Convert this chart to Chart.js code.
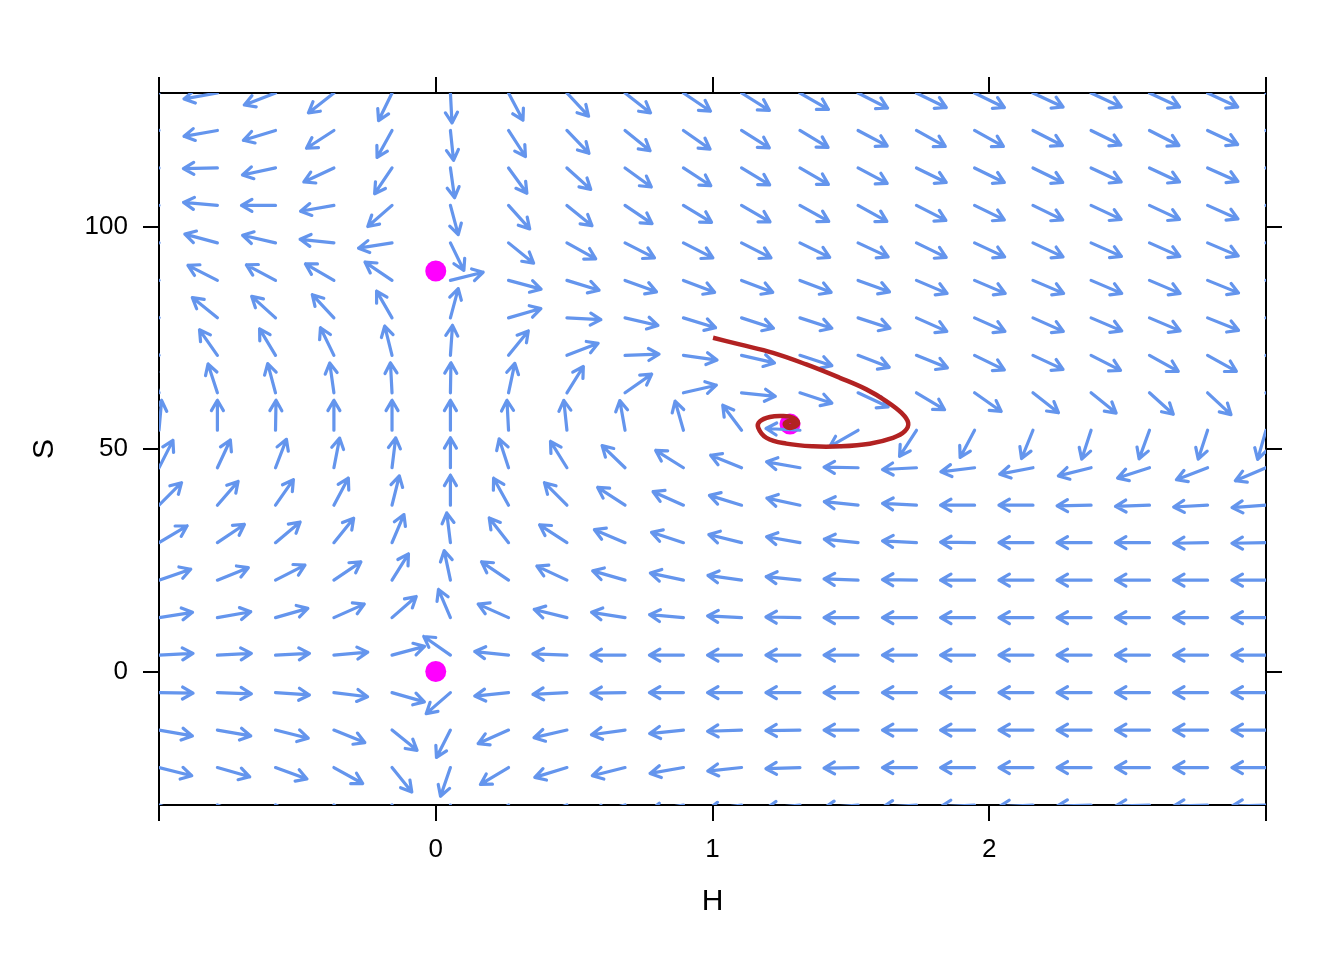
<!DOCTYPE html>
<html>
<head>
<meta charset="utf-8">
<title>Phase plane H / S</title>
<script src="https://cdn.jsdelivr.net/npm/chart.js@4.4.1/dist/chart.umd.min.js"></script>
<style>
  html, body { margin: 0; padding: 0; background: #ffffff; }
  #wrap { width: 1344px; height: 960px; }
</style>
</head>
<body>
<div id="wrap"><canvas id="phaseChart" width="1344" height="960"></canvas></div>
<script>
// grid of the flow field (H columns, S rows)
const hGrid = [-1, -0.789, -0.579, -0.368, -0.158, 0.053, 0.263, 0.474, 0.684, 0.895,
               1.105, 1.316, 1.526, 1.737, 1.947, 2.158, 2.368, 2.579, 2.789, 3];
const sGrid = [-30, -21.58, -13.16, -4.74, 3.68, 12.11, 20.53, 28.95, 37.37, 45.79,
               54.21, 62.63, 71.05, 79.47, 87.89, 96.32, 104.74, 113.16, 121.58, 130];

// arrow direction on screen, degrees (0 = right, 90 = up), one row per S value
const arrowAngles = [
  [340, 338, 335, 322, 300, 258, 215, 200, 195, 190, 188, 186, 185, 184, 183, 183, 182, 182, 182, 182],
  [346, 344, 340, 331, 309, 251, 211, 197, 194, 190, 186, 182, 181, 180, 180, 180, 180, 180, 180, 180],
  [350, 350, 346, 338, 321, 243, 204, 193, 188, 186, 182, 181, 180, 180, 180, 180, 180, 180, 180, 180],
  [359, 358, 356, 353, 344, 221, 186, 183, 181, 180, 180, 180, 180, 180, 180, 180, 180, 180, 180, 180],
  [3, 3, 3, 5, 15, 145, 174, 178, 180, 180, 180, 180, 180, 180, 180, 180, 180, 180, 180, 180],
  [9, 10, 16, 24, 41, 113, 156, 166, 171, 175, 177, 179, 180, 180, 180, 180, 180, 180, 180, 180],
  [19, 22, 27, 34, 58, 102, 146, 155, 164, 168, 172, 174, 178, 179, 180, 180, 180, 180, 180, 180],
  [31, 34, 40, 51, 67, 97, 128, 147, 157, 162, 166, 170, 174, 177, 179, 180, 180, 180, 181, 181],
  [45, 49, 55, 62, 76, 90, 119, 135, 147, 156, 163, 168, 174, 177, 180, 180, 181, 182, 183, 184],
  [63, 65, 69, 79, 83, 90, 108, 122, 136, 148, 158, 170, 179, 183, 187, 191, 194, 198, 201, 203],
  [85, 90, 89, 90, 90, 90, 93, 96, 100, 106, 127, 177, 210, 237, 242, 248, 252, 250, 252, 254],
  [110, 108, 105, 98, 93, 89, 78, 58, 35, 13, 354, 342, 335, 329, 325, 322, 321, 318, 317, 316],
  [128, 125, 121, 116, 104, 86, 51, 21, 2, 352, 347, 342, 339, 338, 334, 335, 333, 331, 331, 331],
  [143, 141, 138, 133, 120, 75, 16, 357, 347, 343, 342, 342, 342, 336, 336, 336, 337, 337, 338, 338],
  [154, 153, 152, 150, 146, 14, 345, 343, 340, 339, 339, 339, 340, 337, 337, 337, 337, 337, 338, 338],
  [165, 165, 167, 174, 189, 296, 321, 331, 333, 333, 333, 334, 335, 334, 335, 335, 336, 336, 337, 337],
  [176, 175, 180, 190, 221, 285, 312, 321, 326, 329, 330, 331, 331, 333, 334, 334, 335, 335, 336, 336],
  [182, 181, 192, 205, 236, 278, 306, 318, 324, 327, 329, 330, 332, 334, 334, 334, 335, 335, 336, 336],
  [188, 190, 197, 213, 241, 276, 303, 314, 321, 325, 328, 329, 332, 331, 331, 333, 334, 333, 335, 335],
  [190, 190, 201, 218, 244, 273, 298, 313, 322, 326, 328, 330, 333, 334, 334, 335, 335, 335, 335, 335]
];

// equilibria
const eqH = [0, 0, 1.28];
const eqS = [0, 90, 55.6];

// trajectory started at (1, 75)
const trajH = [1.002, 1.098, 1.219, 1.339, 1.460, 1.556, 1.629, 1.683, 1.707, 1.695, 1.652, 1.568,
               1.460, 1.363, 1.267, 1.195, 1.165, 1.171, 1.207, 1.255, 1.291, 1.309, 1.297, 1.272,
               1.261, 1.279, 1.297, 1.283, 1.276, 1.286, 1.282, 1.280];
const trajS = [75.0, 73.5, 71.6, 69.0, 66.0, 63.4, 60.7, 58.1, 55.9, 54.0, 52.5, 51.2,
               50.6, 50.6, 51.2, 52.5, 54.8, 56.2, 57.2, 57.4, 57.0, 55.9, 55.0, 54.8,
               55.7, 56.3, 55.7, 55.1, 55.5, 55.8, 55.4, 55.6];

const xTicks = [-1, 0, 1, 2, 3];
const yTicks = [0, 50, 100];

const FONT = "'Liberation Sans', Arial, sans-serif";

// draws the flow field under the trajectory but over the equilibrium points
const arrowField = {
  id: 'arrowField',
  beforeDatasetDraw(chart, args) {
    if (args.index !== 0) return;
    const { ctx, chartArea, scales: { x, y } } = chart;
    ctx.save();
    ctx.beginPath();
    ctx.rect(chartArea.left, chartArea.top, chartArea.right - chartArea.left, chartArea.bottom - chartArea.top);
    ctx.clip();
    ctx.strokeStyle = '#6495ED';
    ctx.lineWidth = 3.2;
    ctx.lineCap = 'round';
    ctx.lineJoin = 'round';
    const wing = 12, spread = 30 * Math.PI / 180;
    arrowAngles.forEach((row, i) => {
      row.forEach((deg, j) => {
        const x0 = x.getPixelForValue(hGrid[j]);
        const y0 = y.getPixelForValue(sGrid[i]);
        const a = deg * Math.PI / 180;
        const c = Math.cos(a), s = Math.sin(a);
        const len = 1 / Math.sqrt((c / 34) ** 2 + (s / 30) ** 2);
        const x1 = x0 + len * c, y1 = y0 - len * s;
        ctx.beginPath();
        ctx.moveTo(x0, y0);
        ctx.lineTo(x1, y1);
        const back = a + Math.PI;
        ctx.moveTo(x1 + wing * Math.cos(back + spread), y1 - wing * Math.sin(back + spread));
        ctx.lineTo(x1, y1);
        ctx.lineTo(x1 + wing * Math.cos(back - spread), y1 - wing * Math.sin(back - spread));
        ctx.stroke();
      });
    });
    ctx.restore();
  }
};

const tickSet = (vals) => (scale) => { scale.ticks = vals.map(v => ({ value: v })); };

const axisCommon = {
  type: 'linear',
  grid: { drawOnChartArea: false, drawTicks: true, tickLength: 16, color: '#000000', lineWidth: 2 },
  border: { display: true, color: '#000000', width: 2 },
};

new Chart(document.getElementById('phaseChart'), {
  type: 'scatter',
  data: {
    datasets: [
      {
        label: 'trajectory',
        data: trajH.map((h, k) => ({ x: h, y: trajS[k] })),
        showLine: true,
        borderColor: '#B22222',
        borderWidth: 4.5,
        pointRadius: 0,
        tension: 0.4,
        fill: false
      },
      {
        label: 'equilibria',
        data: eqH.map((h, k) => ({ x: h, y: eqS[k] })),
        showLine: false,
        pointRadius: 10.5,
        pointBackgroundColor: '#FF00FF',
        pointBorderWidth: 0
      }
    ]
  },
  options: {
    responsive: false,
    devicePixelRatio: 1,
    animation: false,
    layout: { padding: 0 },
    plugins: { legend: { display: false }, tooltip: { enabled: false } },
    scales: {
      x: {
        ...axisCommon,
        position: 'bottom',
        min: -1, max: 3,
        afterBuildTicks: tickSet(xTicks),
        afterFit: (s) => { s.height = 155; },
        ticks: {
          autoSkip: false, maxRotation: 0, padding: 13, color: '#000000',
          font: { family: FONT, size: 26 },
          callback: (v) => (v === -1 || v === 3) ? '' : String(v)
        },
        title: { display: true, text: 'H', color: '#000000', font: { family: FONT, size: 30 }, padding: { top: 0, bottom: 40 } }
      },
      xTop: {
        ...axisCommon,
        position: 'top',
        min: -1, max: 3,
        afterBuildTicks: tickSet(xTicks),
        afterFit: (s) => { s.height = 93; },
        ticks: { autoSkip: false, maxRotation: 0, callback: () => '' }
      },
      y: {
        ...axisCommon,
        position: 'left',
        min: -30, max: 130,
        afterBuildTicks: tickSet(yTicks),
        afterFit: (s) => { s.width = 159; },
        ticks: {
          autoSkip: false, padding: 15, color: '#000000',
          font: { family: FONT, size: 26 },
          callback: (v) => String(v)
        },
        title: { display: true, text: 'S', color: '#000000', font: { family: FONT, size: 30 }, padding: { top: 27, bottom: 0 } }
      },
      yRight: {
        ...axisCommon,
        position: 'right',
        min: -30, max: 130,
        afterBuildTicks: tickSet(yTicks),
        afterFit: (s) => { s.width = 78; },
        ticks: { autoSkip: false, callback: () => '' }
      }
    }
  },
  plugins: [arrowField]
});
</script>
</body>
</html>
